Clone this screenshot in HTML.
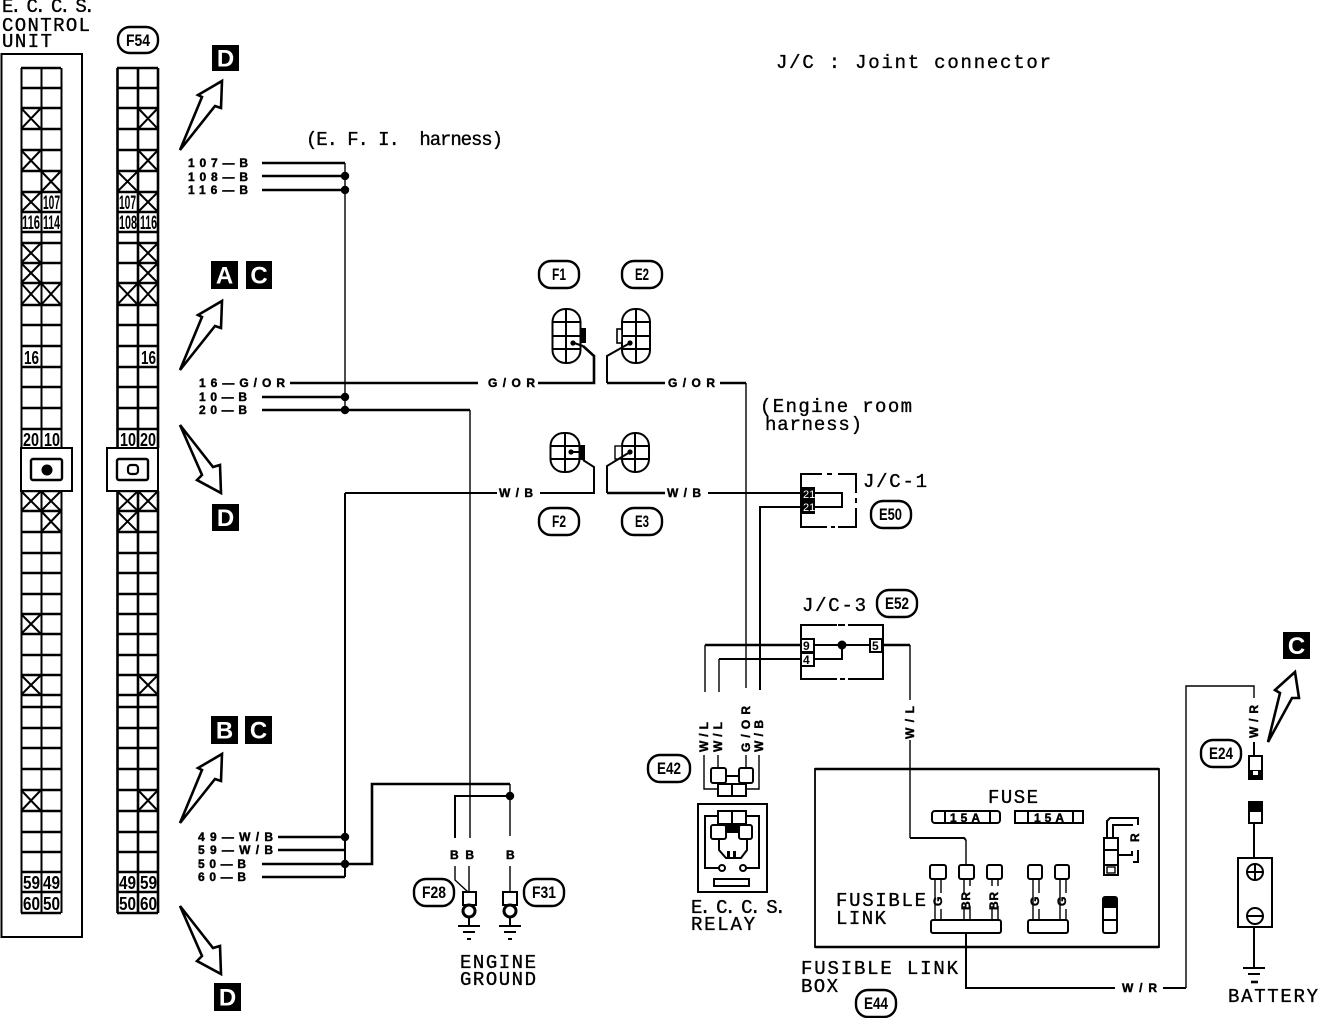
<!DOCTYPE html>
<html>
<head>
<meta charset="utf-8">
<style>
html,body{margin:0;padding:0;background:#fff}
svg{display:block}
text{font-family:"Liberation Mono","DejaVu Sans Mono",monospace;fill:#000}
.big{font-size:19px;stroke:#000;stroke-width:.35}
.sm{font-family:"Liberation Sans",sans-serif;font-size:12px;font-weight:bold;stroke:#000;stroke-width:.45}
.cell{font-family:"Liberation Sans",sans-serif;font-size:18px;font-weight:bold}
.c3{font-family:"Liberation Sans",sans-serif;font-size:19px;font-weight:bold}
.bub{font-family:"Liberation Sans",sans-serif;font-size:17px;font-weight:bold}
.lt{font-family:"Liberation Sans",sans-serif;font-size:24px;font-weight:bold;fill:#fff;text-anchor:middle}
.w1{fill:none;stroke:#000;stroke-width:1.4}
.w2{fill:none;stroke:#000;stroke-width:2}
.w3{fill:none;stroke:#000;stroke-width:2.6}
.bb{fill:#fff;stroke:#000;stroke-width:2}
.pb{fill:#fff;stroke:#000;stroke-width:2.4}
.ar{fill:#fff;stroke:#000;stroke-width:2.6;stroke-linejoin:miter}
</style>
</head>
<body>
<svg width="1328" height="1018" viewBox="0 0 1328 1018" xmlns="http://www.w3.org/2000/svg">
<rect width="1328" height="1018" fill="#fff"/>

<!-- Control unit labels -->
<text class="big" x="2" y="12" textLength="93" lengthAdjust="spacing">E. C. C. S.</text>
<text class="big" x="2" y="31" textLength="88" lengthAdjust="spacing">CONTROL</text>
<text class="big" x="2" y="47" textLength="50" lengthAdjust="spacing">UNIT</text>

<!-- outer box -->
<path d="M1.5 54H82V937H1.5Z" class="w2"/>

<!-- Left connector grid -->
<path class="w3" d="M21 68H61M21 88H61M21 108H61M21 129H61M21 150H61M21 171H61M21 192H61M21 212H61M21 232H61M21 243H61M21 263H61M21 283H61M21 305H61M21 325H61M21 346H61M21 367H61M21 387H61M21 408H61M21 429H61M21 491H61M21 511H61M21 532H61M21 553H61M21 573H61M21 594H61M21 614H61M21 634H61M21 655H61M21 675H61M21 695H61M21 707H61M21 728H61M21 748H61M21 769H61M21 790H61M21 811H61M21 832H61M21 852H61M21 872H61M21 892H61M21 913H61"/>
<path class="w2" d="M21.5 68V448M41.5 68V448M61.5 68V448M21.5 491V913M41.5 491V913M61.5 491V913"/>
<path class="w2" d="M21 108L41 129M41 108L21 129M21 150L41 171M41 150L21 171M41 171L61 192M61 171L41 192M21 192L41 212M41 192L21 212M21 243L41 263M41 243L21 263M21 263L41 283M41 263L21 283M21 283L41 305M41 283L21 305M41 283L61 305M61 283L41 305M21 491L41 511M41 491L21 511M41 491L61 511M61 491L41 511M41 511L61 532M61 511L41 532M21 614L41 634M41 614L21 634M21 675L41 695M41 675L21 695M21 790L41 811M41 790L21 811"/>

<!-- Right connector grid -->
<path class="w3" d="M117 68H158M117 88H158M117 108H158M117 129H158M117 150H158M117 171H158M117 192H158M117 212H158M117 232H158M117 243H158M117 263H158M117 283H158M117 305H158M117 325H158M117 346H158M117 367H158M117 387H158M117 408H158M117 429H158M117 491H158M117 511H158M117 532H158M117 553H158M117 573H158M117 594H158M117 614H158M117 634H158M117 655H158M117 675H158M117 695H158M117 707H158M117 728H158M117 748H158M117 769H158M117 790H158M117 811H158M117 832H158M117 852H158M117 872H158M117 892H158M117 913H158"/>
<path class="w3" d="M117.5 68V448M138 68V448M158 68V448M117.5 491V913M138 491V913M158 491V913"/>
<path class="w2" d="M138 108L158 129M158 108L138 129M138 150L158 171M158 150L138 171M117 171L138 192M138 171L117 192M138 192L158 212M158 192L138 212M138 243L158 263M158 243L138 263M138 263L158 283M158 263L138 283M117 283L138 305M138 283L117 305M138 283L158 305M158 283L138 305M117 491L138 511M138 491L117 511M138 491L158 511M158 491L138 511M117 511L138 532M138 511L117 532M138 675L158 695M158 675L138 695M138 790L158 811M158 790L138 811"/>

<!-- cell labels -->
<text class="c3" x="43" y="209" textLength="17" lengthAdjust="spacingAndGlyphs">107</text>
<text class="c3" x="22" y="229" textLength="18" lengthAdjust="spacingAndGlyphs">116</text>
<text class="c3" x="43" y="229" textLength="17" lengthAdjust="spacingAndGlyphs">114</text>
<text class="cell" x="24" y="364" textLength="15" lengthAdjust="spacingAndGlyphs">16</text>
<text class="cell" x="23" y="446" textLength="16" lengthAdjust="spacingAndGlyphs">20</text>
<text class="cell" x="44" y="446" textLength="16" lengthAdjust="spacingAndGlyphs">10</text>
<text class="cell" x="23" y="889" textLength="17" lengthAdjust="spacingAndGlyphs">59</text>
<text class="cell" x="43" y="889" textLength="17" lengthAdjust="spacingAndGlyphs">49</text>
<text class="cell" x="23" y="910" textLength="17" lengthAdjust="spacingAndGlyphs">60</text>
<text class="cell" x="43" y="910" textLength="17" lengthAdjust="spacingAndGlyphs">50</text>

<text class="c3" x="119" y="209" textLength="17" lengthAdjust="spacingAndGlyphs">107</text>
<text class="c3" x="119" y="229" textLength="18" lengthAdjust="spacingAndGlyphs">108</text>
<text class="c3" x="140" y="229" textLength="17" lengthAdjust="spacingAndGlyphs">116</text>
<text class="cell" x="141" y="364" textLength="15" lengthAdjust="spacingAndGlyphs">16</text>
<text class="cell" x="120" y="446" textLength="16" lengthAdjust="spacingAndGlyphs">10</text>
<text class="cell" x="140" y="446" textLength="16" lengthAdjust="spacingAndGlyphs">20</text>
<text class="cell" x="119" y="889" textLength="17" lengthAdjust="spacingAndGlyphs">49</text>
<text class="cell" x="140" y="889" textLength="17" lengthAdjust="spacingAndGlyphs">59</text>
<text class="cell" x="119" y="910" textLength="17" lengthAdjust="spacingAndGlyphs">50</text>
<text class="cell" x="140" y="910" textLength="17" lengthAdjust="spacingAndGlyphs">60</text>

<!-- lock boxes -->
<rect x="21" y="448" width="51" height="43" fill="#fff" stroke="#000" stroke-width="2"/>
<rect x="31" y="459" width="31" height="21" rx="2" fill="#fff" stroke="#000" stroke-width="2.4"/>
<circle cx="47" cy="470" r="5.5" fill="#000"/>
<rect x="107" y="448" width="51" height="43" fill="#fff" stroke="#000" stroke-width="2"/>
<rect x="117" y="459" width="31" height="21" rx="2" fill="#fff" stroke="#000" stroke-width="2.4"/>
<rect x="128" y="465" width="10" height="9" rx="3" fill="#fff" stroke="#000" stroke-width="2.2"/>

<!-- bubbles -->
<rect x="118" y="27" width="40" height="26" rx="12" class="pb"/><text class="bub" x="126" y="46" textLength="24" lengthAdjust="spacingAndGlyphs">F54</text>
<rect x="539" y="261" width="40" height="27" rx="12" class="pb"/><text class="bub" x="552" y="280" textLength="14" lengthAdjust="spacingAndGlyphs">F1</text>
<rect x="622" y="261" width="40" height="27" rx="12" class="pb"/><text class="bub" x="635" y="280" textLength="14" lengthAdjust="spacingAndGlyphs">E2</text>
<rect x="539" y="508" width="40" height="27" rx="12" class="pb"/><text class="bub" x="552" y="527" textLength="14" lengthAdjust="spacingAndGlyphs">F2</text>
<rect x="622" y="508" width="40" height="27" rx="12" class="pb"/><text class="bub" x="635" y="527" textLength="14" lengthAdjust="spacingAndGlyphs">E3</text>
<rect x="871" y="501" width="40" height="27" rx="12" class="pb"/><text class="bub" x="879" y="520" textLength="23" lengthAdjust="spacingAndGlyphs">E50</text>
<rect x="877" y="590" width="40" height="27" rx="12" class="pb"/><text class="bub" x="885" y="609" textLength="24" lengthAdjust="spacingAndGlyphs">E52</text>
<rect x="648" y="755" width="42" height="27" rx="12" class="pb"/><text class="bub" x="657" y="774" textLength="24" lengthAdjust="spacingAndGlyphs">E42</text>
<rect x="414" y="879" width="40" height="27" rx="12" class="pb"/><text class="bub" x="422" y="898" textLength="24" lengthAdjust="spacingAndGlyphs">F28</text>
<rect x="524" y="879" width="40" height="27" rx="12" class="pb"/><text class="bub" x="532" y="898" textLength="24" lengthAdjust="spacingAndGlyphs">F31</text>
<rect x="1201" y="740" width="40" height="27" rx="12" class="pb"/><text class="bub" x="1209" y="759" textLength="24" lengthAdjust="spacingAndGlyphs">E24</text>
<rect x="856" y="990" width="40" height="27" rx="12" class="pb"/><text class="bub" x="864" y="1009" textLength="24" lengthAdjust="spacingAndGlyphs">E44</text>

<!-- Letter boxes -->
<rect x="212" y="45" width="27" height="26" fill="#000"/><text class="lt" x="225.5" y="66.500">D</text>
<rect x="211" y="261" width="27" height="28" fill="#000"/><text class="lt" x="224.500" y="283.500">A</text>
<rect x="246" y="261" width="26" height="28" fill="#000"/><text class="lt" x="259" y="283.500">C</text>
<rect x="212" y="504" width="27" height="27" fill="#000"/><text class="lt" x="225.5" y="526">D</text>
<rect x="211" y="716" width="27" height="28" fill="#000"/><text class="lt" x="224.500" y="738.500">B</text>
<rect x="245" y="716" width="27" height="28" fill="#000"/><text class="lt" x="258.5" y="738.500">C</text>
<rect x="214" y="983" width="27" height="28" fill="#000"/><text class="lt" x="227.5" y="1005.500">D</text>
<rect x="1283" y="632" width="27" height="27" fill="#000"/><text class="lt" x="1296.5" y="654">C</text>

<!-- Arrows -->
<polygon class="ar" points="180,150 202,97 198,95 222,81 221,108 215,106"/>
<polygon class="ar" points="180,150 202,97 198,95 222,81 221,108 215,106" transform="translate(0,220)"/>
<polygon class="ar" points="180,150 202,97 198,95 222,81 221,108 215,106" transform="translate(0,673)"/>
<polygon class="ar" points="180,425 213,467 220,465 221,493 197,480 202,475"/>
<polygon class="ar" points="180,425 213,467 220,465 221,493 197,480 202,475" transform="translate(0,481)"/>
<polygon class="ar" points="1268,742 1280,693 1275,690 1295,672 1299,698 1292,698"/>

<!-- Header labels -->
<text class="big" x="776" y="68" textLength="275" lengthAdjust="spacing">J/C : Joint connector</text>
<text class="big" x="306" y="145" textLength="197" lengthAdjust="spacing">(E. F. I.&#160;&#160;harness)</text>
<text class="big" x="760" y="412" textLength="152" lengthAdjust="spacing">(Engine room</text>
<text class="big" x="765" y="430" textLength="97" lengthAdjust="spacing">harness)</text>
<text class="big" x="863" y="487" textLength="64" lengthAdjust="spacing">J/C-1</text>
<text class="big" x="802" y="611" textLength="64" lengthAdjust="spacing">J/C-3</text>
<text class="big" x="988" y="803" textLength="50" lengthAdjust="spacing">FUSE</text>
<text class="big" x="836" y="906" textLength="90" lengthAdjust="spacing">FUSIBLE</text>
<text class="big" x="836" y="924" textLength="50" lengthAdjust="spacing">LINK</text>
<text class="big" x="801" y="974" textLength="157" lengthAdjust="spacing">FUSIBLE LINK</text>
<text class="big" x="801" y="992" textLength="37" lengthAdjust="spacing">BOX</text>
<text class="big" x="691" y="913" textLength="95" lengthAdjust="spacing">E. C. C. S.</text>
<text class="big" x="691" y="930" textLength="64" lengthAdjust="spacing">RELAY</text>
<text class="big" x="460" y="968" textLength="76" lengthAdjust="spacing">ENGINE</text>
<text class="big" x="460" y="985" textLength="76" lengthAdjust="spacing">GROUND</text>
<text class="big" x="1228" y="1002" textLength="90" lengthAdjust="spacing">BATTERY</text>

<!-- Wire labels -->
<text class="sm" x="188" y="167" textLength="60" lengthAdjust="spacing">107—B</text>
<text class="sm" x="188" y="181" textLength="60" lengthAdjust="spacing">108—B</text>
<text class="sm" x="188" y="194" textLength="60" lengthAdjust="spacing">116—B</text>
<text class="sm" x="199" y="387" textLength="86" lengthAdjust="spacing">16—G/OR</text>
<text class="sm" x="199" y="401" textLength="48" lengthAdjust="spacing">10—B</text>
<text class="sm" x="199" y="414" textLength="48" lengthAdjust="spacing">20—B</text>
<text class="sm" x="198" y="841" textLength="75" lengthAdjust="spacing">49—W/B</text>
<text class="sm" x="198" y="854" textLength="75" lengthAdjust="spacing">59—W/B</text>
<text class="sm" x="198" y="868" textLength="48" lengthAdjust="spacing">50—B</text>
<text class="sm" x="198" y="881" textLength="48" lengthAdjust="spacing">60—B</text>
<text class="sm" x="488" y="387" textLength="47" lengthAdjust="spacing">G/OR</text>
<text class="sm" x="668" y="387" textLength="47" lengthAdjust="spacing">G/OR</text>
<text class="sm" x="499" y="497" textLength="34" lengthAdjust="spacing">W/B</text>
<text class="sm" x="667" y="497" textLength="34" lengthAdjust="spacing">W/B</text>
<text class="sm" x="1122" y="992" textLength="35" lengthAdjust="spacing">W/R</text>
<text class="sm" transform="rotate(-90 708 752)" x="708" y="752" textLength="30" lengthAdjust="spacing">W/L</text>
<text class="sm" transform="rotate(-90 722 752)" x="722" y="752" textLength="30" lengthAdjust="spacing">W/L</text>
<text class="sm" transform="rotate(-90 750 752)" x="750" y="752" textLength="46" lengthAdjust="spacing">G/OR</text>
<text class="sm" transform="rotate(-90 763 752)" x="763" y="752" textLength="32" lengthAdjust="spacing">W/B</text>
<text class="sm" transform="rotate(-90 914 739)" x="914" y="739" textLength="33" lengthAdjust="spacing">W/L</text>
<text class="sm" transform="rotate(-90 1258 738)" x="1258" y="738" textLength="33" lengthAdjust="spacing">W/R</text>
<text class="sm" transform="rotate(-90 942 906)" x="942" y="906" textLength="10" lengthAdjust="spacing">G</text>
<text class="sm" transform="rotate(-90 970 910)" x="970" y="910" textLength="18" lengthAdjust="spacing">BR</text>
<text class="sm" transform="rotate(-90 998 910)" x="998" y="910" textLength="18" lengthAdjust="spacing">BR</text>
<text class="sm" transform="rotate(-90 1039 906)" x="1039" y="906" textLength="10" lengthAdjust="spacing">G</text>
<text class="sm" transform="rotate(-90 1066 906)" x="1066" y="906" textLength="10" lengthAdjust="spacing">G</text>
<text class="sm" transform="rotate(-90 1139 842)" x="1139" y="842" textLength="8" lengthAdjust="spacing">R</text>
<text class="sm" x="450" y="859" textLength="24" lengthAdjust="spacing">B B</text>
<text class="sm" x="506" y="859" textLength="9" lengthAdjust="spacing">B</text>

<!-- Wiring: left harness -->
<path class="w3" d="M262 163H345M262 176H345M262 190H345"/>
<path class="w1" d="M345 163V410"/>
<circle cx="345" cy="176" r="4.2"/><circle cx="345" cy="190" r="4.2"/>
<path class="w3" d="M290 383H478M262 397H345M262 410H470M538 383H594V356L583 346"/>
<path class="w1" d="M470 410V838"/>
<circle cx="345" cy="397" r="4.2"/><circle cx="345" cy="410" r="4.2"/>
<path class="w2" d="M345 493H497M540 493H594V467L583 460M345 493V877"/>
<path class="w3" d="M278 837H345M278 850H345M262 864H372V784H510M262 877H345"/>
<circle cx="345" cy="837" r="4.2"/><circle cx="345" cy="864" r="4.2"/>
<path class="w1" d="M510 784V836"/>
<path class="w2" d="M455 838V796H510"/>
<circle cx="510" cy="796" r="4.2"/>

<!-- Engine grounds -->
<path class="w1" d="M455 866V880L468 892M469 866V892M510 866V892"/>
<rect x="463" y="892" width="13" height="13" class="bb"/>
<circle cx="469" cy="911" r="6" fill="#fff" stroke="#000" stroke-width="3"/>
<rect x="503" y="892" width="14" height="13" class="bb"/>
<circle cx="510" cy="911" r="6" fill="#fff" stroke="#000" stroke-width="3"/>
<path class="w2" d="M469 918V925M458 926H480M463 932H475M467 939H471M510 918V925M499 926H521M504 932H516M508 939H512"/>

<!-- Mid connectors -->
<rect x="552.500" y="309" width="28" height="54" rx="13" class="bb"/>
<path class="w2" d="M552 322H581M552 336H581M552 349H581M566 310V362"/>
<rect x="581" y="328" width="5" height="15" fill="#000"/>
<path class="w2" d="M571 342L583 346"/>
<circle cx="573" cy="343" r="2.6"/>
<rect x="622" y="309" width="28" height="54" rx="13" class="bb"/>
<path class="w2" d="M622 322H651M622 336H651M622 349H651M636 310V362"/>
<rect x="617" y="329" width="5" height="14" fill="#fff" stroke="#000" stroke-width="1.6"/>
<path class="w2" d="M607 383V356L630 343"/>
<circle cx="630" cy="343" r="2.6"/>
<path class="w3" d="M607 383H665M720 383H746"/>

<rect x="550.500" y="433" width="29" height="39" rx="13" class="bb"/>
<path class="w2" d="M550 446H580M550 459H580M565 433V471"/>
<rect x="579" y="445" width="6" height="15" fill="#000"/>
<path class="w2" d="M572 452L581 452"/>
<circle cx="571" cy="452" r="2.6"/>
<rect x="622" y="433" width="27" height="39" rx="13" class="bb"/>
<path class="w2" d="M622 446H649M622 459H649M635 433V471"/>
<rect x="615" y="446" width="7" height="13" fill="#fff" stroke="#000" stroke-width="1.4"/>
<path class="w2" d="M607 493V466L630 452"/>
<circle cx="630" cy="452" r="2.6"/>
<path class="w3" d="M607 493H665"/>
<path class="w2" d="M708 493H800"/>

<!-- Vertical harness -->
<path class="w1" d="M746 383V688"/>
<path class="w2" d="M800 507H760V690"/>

<!-- J/C-1 -->
<path class="w2" d="M822 474H801V527H827M838 527H856V508M856 503V498M856 493V474H838M827 474H832M831 527H835"/>
<rect x="801" y="487" width="14" height="13" fill="#000"/>
<rect x="801" y="500" width="14" height="14" fill="#000"/>
<text x="803" y="498" font-size="11" style="fill:#fff;font-family:'Liberation Sans',sans-serif">21</text>
<text x="803" y="511" font-size="11" style="fill:#fff;font-family:'Liberation Sans',sans-serif">21</text>
<path class="w2" d="M815 493H842V507H815"/>

<!-- J/C-3 -->
<path class="w2" d="M837 625H801V679H837M840 679H845M848 679H883V625H848M838 625H845"/>
<rect x="801" y="639" width="13" height="13" class="bb"/>
<rect x="801" y="653" width="13" height="13" class="bb"/>
<rect x="870" y="639" width="12" height="13" class="bb"/>
<text class="cell" x="803" y="650" style="font-size:12px">9</text>
<text class="cell" x="803" y="664" style="font-size:12px">4</text>
<text class="cell" x="872" y="650" style="font-size:12px">5</text>
<path class="w2" d="M814 645H870M814 659H842V645"/>
<circle cx="842" cy="645" r="4.5"/>
<path class="w3" d="M705 645H801M882 645H910"/>
<path class="w2" d="M719 659H801"/>
<path class="w1" d="M705 645V692M719 659V692M910 645V700"/>

<!-- E42 connector -->
<path class="w1" d="M704 755V789H718M718 755V768M746 755V768M759 755V789H746"/>
<rect x="725" y="776" width="15" height="8" class="bb"/>
<rect x="711" y="768" width="15" height="15" rx="2" class="bb"/>
<rect x="739" y="768" width="14" height="15" rx="2" class="bb"/>
<rect x="718" y="784" width="14" height="12" class="bb"/>
<rect x="732" y="784" width="14" height="12" class="bb"/>

<!-- Relay -->
<rect x="698" y="804" width="69" height="88" fill="#fff" stroke="#000" stroke-width="2"/>
<path class="w2" d="M719 816H705V868H719M746 816H759V868H746"/>
<path class="w2" d="M719 825V850L726 858H741L747 850V825"/>
<rect x="718" y="811" width="14" height="13" class="bb"/>
<rect x="732" y="811" width="14" height="13" class="bb"/>
<rect x="726" y="824" width="14" height="9" fill="#000"/>
<rect x="711" y="825" width="15" height="14" rx="2" class="bb"/>
<rect x="739" y="825" width="13" height="14" rx="2" class="bb"/>
<rect x="727" y="851" width="3" height="7" fill="#000"/><rect x="733" y="851" width="3" height="7" fill="#000"/>
<circle cx="722" cy="868" r="3" fill="#fff" stroke="#000" stroke-width="2"/>
<circle cx="743" cy="868" r="3" fill="#fff" stroke="#000" stroke-width="2"/>
<rect x="714" y="879" width="35" height="7" fill="#fff" stroke="#000" stroke-width="2"/>

<!-- Fuse box -->
<rect x="815" y="769" width="344" height="178" fill="none" stroke="#000" stroke-width="1.8"/>
<path class="w3" d="M815 769H1159M815 947H1159"/>
<path class="w1" d="M910 740V838"/>
<path class="w2" d="M910 838H964L966 840"/>
<path class="w1" d="M966 840V865"/>

<rect x="932" y="811" width="68" height="12" rx="3" class="bb"/>
<rect x="1015" y="811" width="68" height="12" class="bb"/>
<text class="sm" x="950" y="822" textLength="30" lengthAdjust="spacing">15A</text>
<text class="sm" x="1034" y="822" textLength="30" lengthAdjust="spacing">15A</text>
<path class="w2" d="M945 811V823M990 811V823M1028 811V823M1073 811V823"/>

<path class="w1" d="M935 879V920M941 879V893M941 909V920M964 879V893M970 879V886M964 906V920M970 906V920M992 879V886M998 879V886M992 906V920M998 906V920M1033 879V920M1039 879V893M1039 909V920M1060 879V920M1066 879V893M1066 909V920"/>
<rect x="930" y="865" width="16" height="14" rx="2" class="bb"/>
<rect x="959" y="865" width="15" height="14" rx="2" class="bb"/>
<rect x="987" y="865" width="15" height="14" rx="2" class="bb"/>
<rect x="1028" y="865" width="14" height="14" rx="2" class="bb"/>
<rect x="1055" y="865" width="14" height="14" rx="2" class="bb"/>
<rect x="931" y="920" width="70" height="13" rx="2" class="bb"/>
<rect x="1028" y="920" width="40" height="13" rx="2" class="bb"/>

<!-- right inner fuse block -->
<path class="w2" d="M1107 838V821L1110 818H1138V825M1138 850V862H1133M1113 838V825H1133M1118 855H1132V851"/>
<rect x="1104" y="838" width="14" height="37" class="bb"/>
<path class="w2" d="M1104 850H1118M1104 865H1118"/>
<rect x="1107" y="867" width="8" height="6" fill="#fff" stroke="#000" stroke-width="1.4"/>
<rect x="1103" y="897" width="14" height="36" rx="2" class="bb"/>
<rect x="1103" y="897" width="14" height="11" fill="#000"/>
<path class="w2" d="M1103 920H1117"/>

<!-- W/R wire -->
<path class="w2" d="M966 933V988H1115M1163 988H1186"/>
<path class="w1" d="M1186 988V686H1254V698"/>

<!-- Battery -->
<path class="w2" d="M1254 742V756"/>
<rect x="1249" y="756" width="13" height="23" class="bb"/>
<rect x="1250" y="770" width="11" height="8" fill="#000"/>
<rect x="1253" y="771" width="5" height="4" fill="#fff"/>
<rect x="1249" y="802" width="13" height="21" class="bb"/>
<rect x="1249" y="802" width="13" height="10" fill="#000"/>
<path class="w2" d="M1254 823V858"/>
<rect x="1238" y="858" width="34" height="69" fill="#fff" stroke="#000" stroke-width="2"/>
<circle cx="1255" cy="872" r="8" fill="#fff" stroke="#000" stroke-width="2"/>
<path class="w2" d="M1247 872H1263M1255 864V880"/>
<circle cx="1255" cy="916" r="8" fill="#fff" stroke="#000" stroke-width="2"/>
<path class="w2" d="M1247 916H1263"/>
<path class="w2" d="M1254 927V967M1243 968H1265M1248 974H1260"/>
<path class="w3" d="M1251 982H1258"/>
</svg>
</body>
</html>
